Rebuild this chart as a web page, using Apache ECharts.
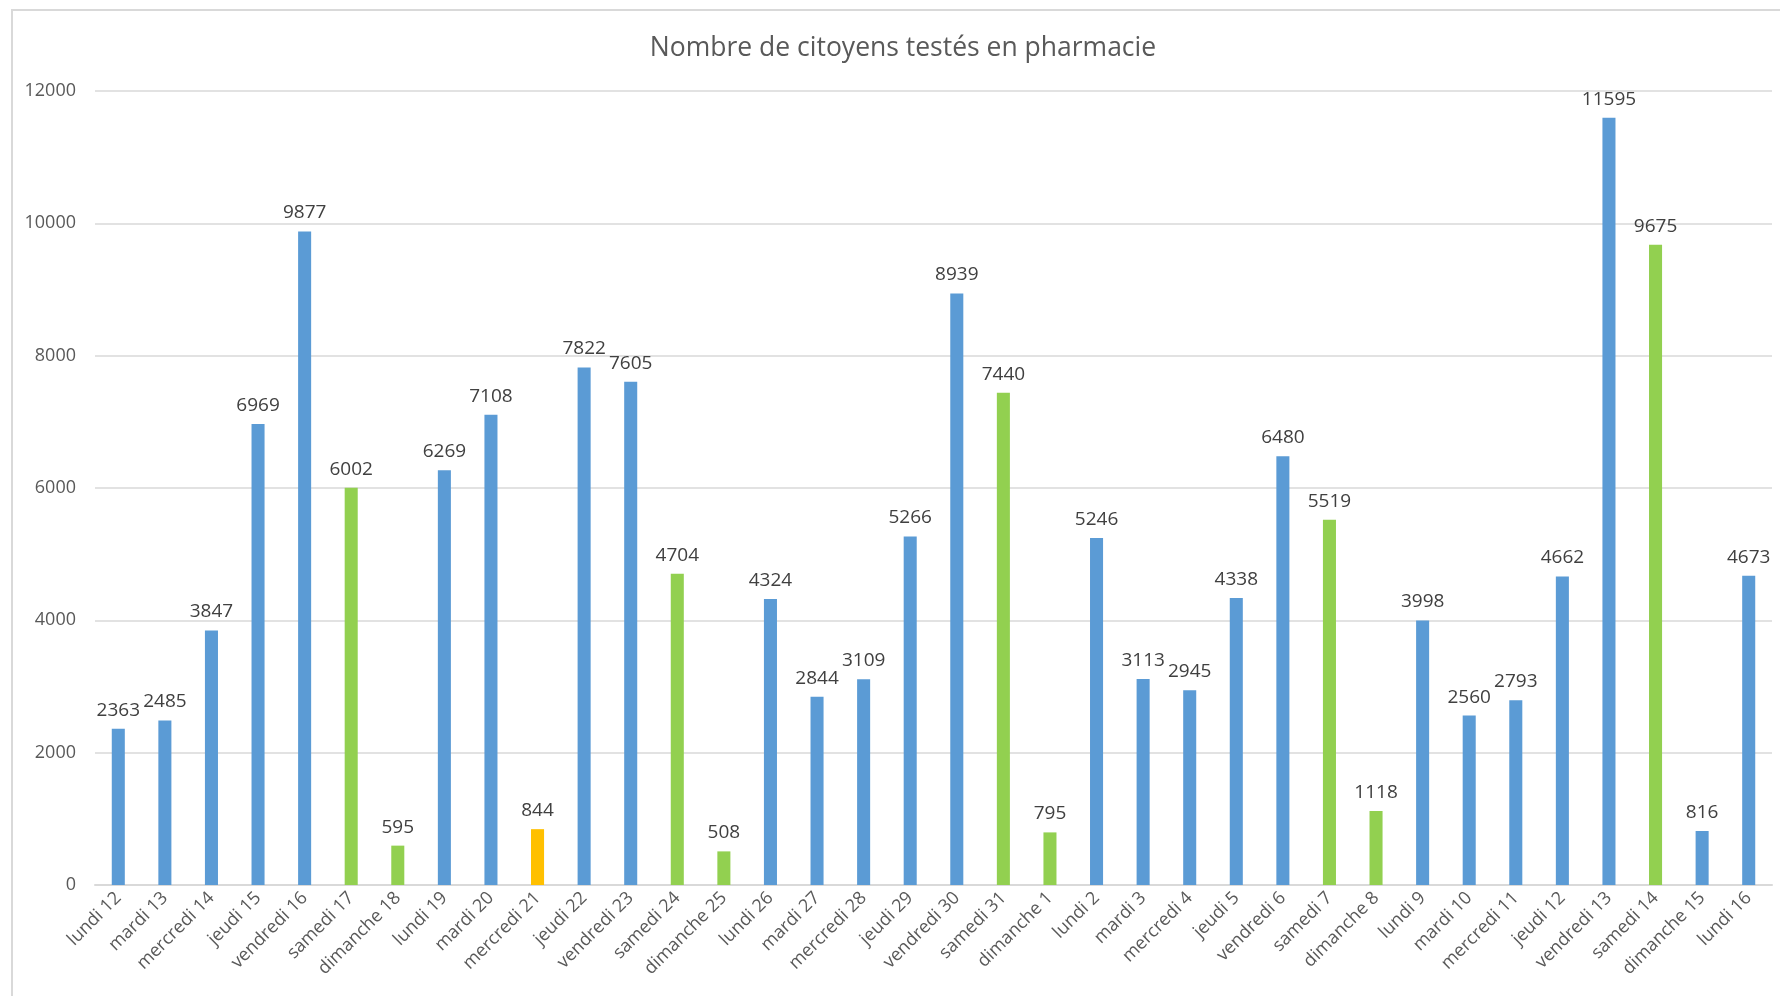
<!DOCTYPE html>
<html>
<head>
<meta charset="utf-8">
<script src="https://cdn.jsdelivr.net/npm/echarts@6/dist/echarts.min.js"></script>
<style>
  html, body { margin: 0; padding: 0; background: #fff; }
  #chart { width: 1780px; height: 996px; }
</style>
</head>
<body>
<div id="chart"></div>
<script>
var jours = [
	'lundi 12', 'mardi 13', 'mercredi 14', 'jeudi 15', 'vendredi 16', 'samedi 17', 'dimanche 18',
	'lundi 19', 'mardi 20', 'mercredi 21', 'jeudi 22', 'vendredi 23', 'samedi 24', 'dimanche 25',
	'lundi 26', 'mardi 27', 'mercredi 28', 'jeudi 29', 'vendredi 30', 'samedi 31', 'dimanche 1',
	'lundi 2', 'mardi 3', 'mercredi 4', 'jeudi 5', 'vendredi 6', 'samedi 7', 'dimanche 8',
	'lundi 9', 'mardi 10', 'mercredi 11', 'jeudi 12', 'vendredi 13', 'samedi 14', 'dimanche 15',
	'lundi 16'
];
var testes = [
	2363, 2485, 3847, 6969, 9877, 6002, 595,
	6269, 7108, 844, 7822, 7605, 4704, 508,
	4324, 2844, 3109, 5266, 8939, 7440, 795,
	5246, 3113, 2945, 4338, 6480, 5519, 1118,
	3998, 2560, 2793, 4662, 11595, 9675, 816,
	4673
];
// S = semaine, W = week-end, F = ferie
var typeJour = [
	'S', 'S', 'S', 'S', 'S', 'W', 'W',
	'S', 'S', 'F', 'S', 'S', 'W', 'W',
	'S', 'S', 'S', 'S', 'S', 'W', 'W',
	'S', 'S', 'S', 'S', 'S', 'W', 'W',
	'S', 'S', 'S', 'S', 'S', 'W', 'S',
	'S'
];
var yTicks = [0, 2000, 4000, 6000, 8000, 10000, 12000];

var couleurs = { S: '#5B9BD5', W: '#92D050', F: '#FFC000' };
var police = '"Open Sans", "Noto Sans", sans-serif';

var myChart = echarts.init(document.getElementById('chart'));
var option = {
	backgroundColor: '#fff',
	animation: false,
	title: {
		text: 'Nombre de citoyens testés en pharmacie',
		left: 898,
		top: 30,
		textAlign: 'center',
		textStyle: {
			fontFamily: police,
			fontWeight: 'normal',
			fontSize: 26.5,
			color: '#595959'
		}
	},
	graphic: [{
		type: 'rect',
		silent: true,
		shape: { x: 12, y: 10, width: 1820, height: 1040 },
		style: { fill: 'none', stroke: '#D9D9D9', lineWidth: 2 }
	}],
	grid: { left: 95, right: 8, top: 91, bottom: 111, containLabel: false },
	xAxis: {
		type: 'category',
		data: jours,
		axisTick: { show: false },
		axisLine: { lineStyle: { color: '#D9D9D9', width: 2 } },
		axisLabel: {
			interval: 0,
			rotate: 45,
			margin: 10,
			fontFamily: police,
			fontSize: 18,
			color: '#595959'
		}
	},
	yAxis: {
		type: 'value',
		min: yTicks[0],
		max: yTicks[yTicks.length - 1],
		interval: 2000,
		axisLine: { show: false },
		axisTick: { show: false },
		splitLine: { lineStyle: { color: '#D9D9D9', width: 1.5 } },
		axisLabel: {
			margin: 19,
			fontFamily: police,
			fontSize: 18,
			color: '#595959',
			formatter: function(v) { return String(v); }
		}
	},
	series: [{
		type: 'bar',
		barWidth: '28%',
		data: testes.map(function(v, i) {
			return { value: v, itemStyle: { color: couleurs[typeJour[i]] } };
		}),
		label: {
			show: true,
			position: 'top',
			distance: 9,
			fontFamily: police,
			fontSize: 19,
			color: '#404040'
		}
	}]
};
myChart.setOption(option);
</script>
</body>
</html>
